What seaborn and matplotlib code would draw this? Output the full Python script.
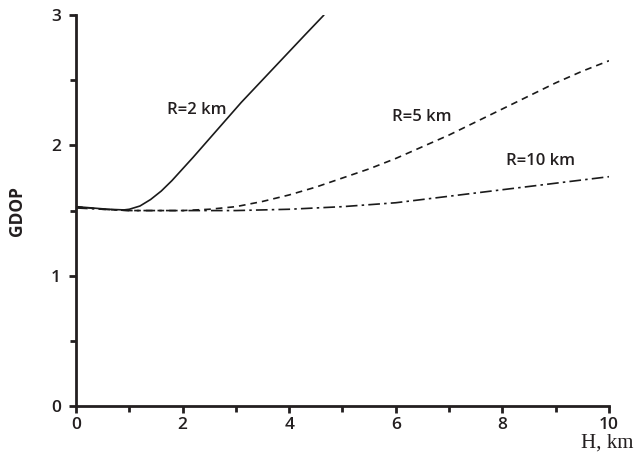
import matplotlib
matplotlib.use("Agg")
import matplotlib.pyplot as plt
import seaborn as sns
import pandas as pd
from matplotlib.ticker import MultipleLocator

sns.set_style("ticks")
plt.rcParams['font.family'] = ['Open Sans', 'DejaVu Sans']

h_r2 = [0, 0.3, 0.6, 0.9, 1.0, 1.2, 1.4, 1.6, 1.8, 2.0, 2.2, 2.5, 2.8, 3.1, 3.4, 3.7, 4.0, 4.3, 4.65]
g_r2 = [1.53, 1.52, 1.51, 1.505, 1.51, 1.535, 1.585, 1.65, 1.73, 1.82, 1.91, 2.05, 2.19, 2.33,
        2.46, 2.59, 2.72, 2.85, 3.0]

h_r5 = [0, 0.5, 1, 1.5, 2, 2.5, 3, 3.5, 4, 4.5, 5, 5.5, 6, 6.5, 7, 7.5, 8, 8.5, 9, 9.5, 10]
g_r5 = [1.53, 1.51, 1.50, 1.50, 1.50, 1.51, 1.53, 1.57, 1.62, 1.68, 1.75, 1.82, 1.90, 1.99, 2.08,
        2.18, 2.28, 2.38, 2.48, 2.57, 2.65]

h_r10 = [0, 1, 2, 3, 4, 5, 6, 7, 8, 9, 10]
g_r10 = [1.52, 1.50, 1.50, 1.50, 1.51, 1.53, 1.56, 1.61, 1.66, 1.71, 1.76]

labels = ["R=2 km", "R=5 km", "R=10 km"]
label_pos = [(2.27, 2.27), (6.49, 2.22), (8.72, 1.88)]

fig = plt.figure(figsize=(6.35, 4.59), dpi=100)
ax = fig.add_axes([0.1197, 0.1155, 0.8393, 0.8515])

styles = ["-", (0, (4, 3)), (0, (7, 2.5, 1.5, 2.5))]
for h, g, ls in zip([h_r2, h_r5, h_r10], [g_r2, g_r5, g_r10], styles):
    df = pd.DataFrame({"H": h, "GDOP": g})
    sns.lineplot(data=df, x="H", y="GDOP", ax=ax, color="#1a1a1a", lw=1.2,
                 linestyle=ls, sort=False, estimator=None)

for lab, (x, y) in zip(labels, label_pos):
    ax.text(x, y, lab, ha="center", va="center", fontsize=12, color="#231f20",
            fontweight="semibold")

ax.set_xlim(0, 10)
ax.set_ylim(0, 3)
ax.xaxis.set_major_locator(MultipleLocator(2))
ax.xaxis.set_minor_locator(MultipleLocator(1))
ax.yaxis.set_major_locator(MultipleLocator(1))
ax.yaxis.set_minor_locator(MultipleLocator(0.5))
ax.tick_params(which="major", direction="out", length=5, width=2, labelsize=12.5,
               colors="#231f20", pad=3)
ax.tick_params(axis="y", which="major", pad=6)
ax.tick_params(which="minor", direction="out", length=4, width=2, colors="#231f20")
for lab in ax.get_xticklabels() + ax.get_yticklabels():
    lab.set_fontweight("semibold")

for s in ["top", "right"]:
    ax.spines[s].set_visible(False)
for s in ["left", "bottom"]:
    ax.spines[s].set_linewidth(2)
    ax.spines[s].set_color("#231f20")

ax.set_xlabel("")
ax.set_ylabel("GDOP", fontsize=12.5, fontweight="bold", color="#231f20", labelpad=18)
fig.text(0.997, 0.035, "H, km", ha="right", va="center", fontsize=15,
         family=["Liberation Serif", "DejaVu Serif"], color="#231f20")

fig.savefig("out.png", dpi=100)
